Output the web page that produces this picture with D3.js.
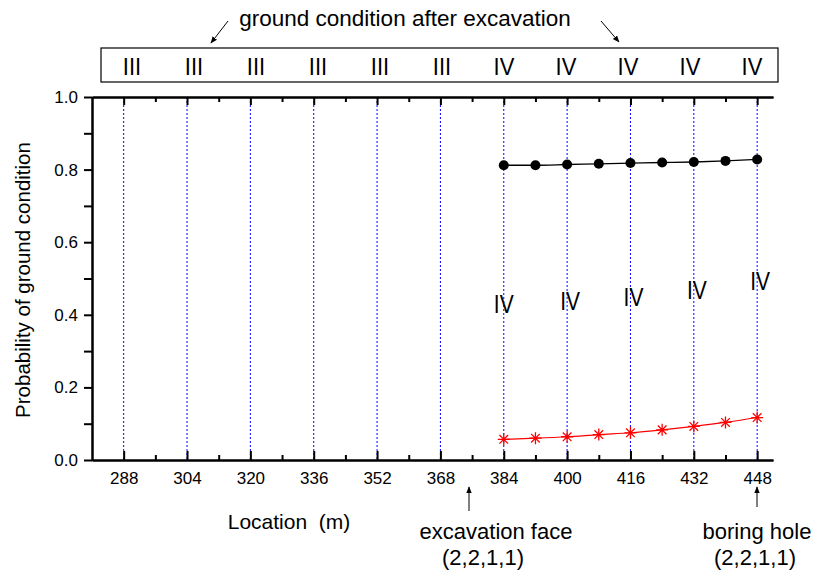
<!DOCTYPE html>
<html>
<head>
<meta charset="utf-8">
<script src="https://cdn.jsdelivr.net/npm/d3@7"></script>
<style>
  body { margin: 0; background: #fff; }
  text { font-family: "Liberation Sans", Arial, sans-serif; fill: #000; }
</style>
</head>
<body>
<div id="chart"></div>
<script>
// Data
var locations = [384, 392, 400, 408, 416, 424, 432, 440, 448];
var probIV = [0.812, 0.812, 0.814, 0.816, 0.818, 0.8195, 0.821, 0.824, 0.828];
var probIII = [0.057, 0.060, 0.064, 0.070, 0.075, 0.083, 0.0925, 0.1035, 0.117];
var gridLocations = [288, 304, 320, 336, 352, 368, 384, 400, 416, 432, 448];
var afterLabels = ["III", "III", "III", "III", "III", "III", "IV", "IV", "IV", "IV", "IV"];
var ivLabelLocations = [384, 400, 416, 432, 448];
var ivLabelProb = [0.43, 0.437, 0.45, 0.468, 0.494];
var yTicks = [0, 0.2, 0.4, 0.6, 0.8, 1.0];

var svgWidth = 817;
var svgHeight = 579;

var svg = d3.select("#chart")
  .append("svg")
    .attr("width", svgWidth)
    .attr("height", svgHeight);

var x = d3.scaleLinear().domain([280, 452]).range([92, 773]);
var y = d3.scaleLinear().domain([0, 1]).range([460, 97]);

// blue dotted verticals
svg.selectAll(".vline")
  .data(gridLocations)
  .enter()
  .append("line")
  .attr("x1", function(d) { return x(d); })
  .attr("x2", function(d) { return x(d); })
  .attr("y1", y(1))
  .attr("y2", y(0))
  .attr("stroke", "#0000ff")
  .attr("stroke-width", 1)
  .attr("stroke-dasharray", "2,2");

// minor/major tick positions
var minorX = d3.range(288, 449, 8).filter(function(d) { return d % 16 !== 0; });
var minorY = [0.1, 0.3, 0.5, 0.7, 0.9];

// bottom axis
var bottomAxis = svg.append("g").attr("transform", "translate(0," + y(0) + ")");
bottomAxis.call(d3.axisBottom(x).tickValues(gridLocations).tickSize(-9).tickSizeOuter(0).tickPadding(12).tickFormat(d3.format("d")));
bottomAxis.append("g").call(d3.axisBottom(x).tickValues(minorX).tickSize(-5).tickSizeOuter(0).tickFormat(""));

// top axis (ticks only)
var topAxis = svg.append("g").attr("transform", "translate(0," + y(1) + ")");
topAxis.call(d3.axisTop(x).tickValues(gridLocations).tickSize(-8).tickSizeOuter(0).tickFormat(""));
topAxis.append("g").call(d3.axisTop(x).tickValues(minorX).tickSize(-5).tickSizeOuter(0).tickFormat(""));

// left axis
var leftAxis = svg.append("g").attr("transform", "translate(" + x(280) + ",0)");
leftAxis.call(d3.axisLeft(y).tickValues(yTicks).tickSize(8).tickSizeOuter(0).tickPadding(6).tickFormat(d3.format(".1f")));
leftAxis.append("g").call(d3.axisLeft(y).tickValues(minorY).tickSize(8).tickSizeOuter(0).tickFormat(""));

[bottomAxis, topAxis, leftAxis].forEach(function(g) {
  g.attr("font-size", 17).attr("font-family", "'Liberation Sans', Arial, sans-serif");
  g.selectAll("path.domain").attr("stroke", "#000").attr("stroke-width", 2);
  g.selectAll(".tick line").attr("stroke", "#000").attr("stroke-width", 2);
  g.selectAll(".tick text").attr("fill", "#000").style("font-size", "17px");
});

// black series
var line = d3.line()
  .x(function(d, i) { return x(locations[i]); })
  .y(function(d) { return y(d); })
  .curve(d3.curveMonotoneX);

svg.append("path")
  .datum(probIV)
  .attr("d", line)
  .attr("fill", "none")
  .attr("stroke", "#000")
  .attr("stroke-width", 1.3);

svg.selectAll(".dot")
  .data(probIV)
  .enter()
  .append("circle")
  .attr("cx", function(d, i) { return x(locations[i]); })
  .attr("cy", function(d) { return y(d); })
  .attr("r", 5)
  .attr("fill", "#000");

// red series
svg.append("path")
  .datum(probIII)
  .attr("d", line)
  .attr("fill", "none")
  .attr("stroke", "#ff0000")
  .attr("stroke-width", 1.2);

svg.selectAll(".star")
  .data(probIII)
  .enter()
  .append("path")
  .attr("d", function() {
    var s = 6;
    return "M" + (-s) + ",0L" + s + ",0M0," + (-s) + "L0," + s +
      "M" + (-s * 0.72) + "," + (-s * 0.72) + "L" + (s * 0.72) + "," + (s * 0.72) +
      "M" + (-s * 0.72) + "," + (s * 0.72) + "L" + (s * 0.72) + "," + (-s * 0.72);
  })
  .attr("transform", function(d, i) { return "translate(" + x(locations[i]) + "," + y(d) + ")"; })
  .attr("stroke", "#ff0000")
  .attr("stroke-width", 1.3)
  .attr("fill", "none");

// IV labels in plot (a bit taller than wide, like the original)
svg.selectAll(".ivlab")
  .data(ivLabelLocations)
  .enter()
  .append("text")
  .attr("transform", function(d, i) {
    return "translate(" + (x(d) + (i === 0 ? 0 : 3)) + "," + (y(ivLabelProb[i]) + 9) + ") scale(1,1.2)";
  })
  .attr("text-anchor", "middle")
  .style("font-size", "21px")
  .text("IV");

// box with ground condition after excavation
svg.append("rect")
  .attr("x", 101).attr("y", 48)
  .attr("width", 677).attr("height", 34)
  .attr("fill", "none")
  .attr("stroke", "#000")
  .attr("stroke-width", 1.2);

var boxScale = d3.scalePoint().domain(d3.range(afterLabels.length)).range([132, 752]);
svg.selectAll(".boxlab")
  .data(afterLabels)
  .enter()
  .append("text")
  .attr("transform", function(d, i) { return "translate(" + boxScale(i) + ",75) scale(1,1.1)"; })
  .attr("text-anchor", "middle")
  .style("font-size", "22px")
  .text(function(d) { return d; });

svg.append("text")
  .attr("x", 405).attr("y", 26)
  .attr("text-anchor", "middle")
  .style("font-size", "22.5px")
  .text("ground condition after excavation");

// arrow marker
svg.append("defs").append("marker")
  .attr("id", "arr")
  .attr("viewBox", "0 0 10 10")
  .attr("refX", 9).attr("refY", 5)
  .attr("markerWidth", 7).attr("markerHeight", 7)
  .attr("markerUnits", "userSpaceOnUse")
  .attr("orient", "auto")
  .append("path")
  .attr("d", "M0,1L10,5L0,9Z")
  .attr("fill", "#000");

function arrow(x1, y1, x2, y2) {
  svg.append("line")
    .attr("x1", x1).attr("y1", y1)
    .attr("x2", x2).attr("y2", y2)
    .attr("stroke", "#000")
    .attr("stroke-width", 1)
    .attr("marker-end", "url(#arr)");
}
arrow(228, 21, 211, 43);
arrow(601, 21, 619, 42);
arrow(469, 511, 469, 487);
arrow(757, 507, 757, 487);

// axis titles
svg.append("text")
  .attr("x", 289).attr("y", 529)
  .attr("text-anchor", "middle")
  .style("font-size", "21px")
  .style("white-space", "pre")
  .text("Location  (m)");

svg.append("text")
  .attr("transform", "translate(30,280) rotate(-90)")
  .attr("text-anchor", "middle")
  .style("font-size", "20.5px")
  .text("Probability of ground condition");

// annotations
svg.append("text").attr("x", 496).attr("y", 539).attr("text-anchor", "middle")
  .style("font-size", "22px").text("excavation face");
svg.append("text").attr("x", 483).attr("y", 565).attr("text-anchor", "middle")
  .style("font-size", "22px").text("(2,2,1,1)");
svg.append("text").attr("x", 757).attr("y", 539).attr("text-anchor", "middle")
  .style("font-size", "22px").text("boring hole");
svg.append("text").attr("x", 755).attr("y", 565).attr("text-anchor", "middle")
  .style("font-size", "22px").text("(2,2,1,1)");
</script>
</body>
</html>
